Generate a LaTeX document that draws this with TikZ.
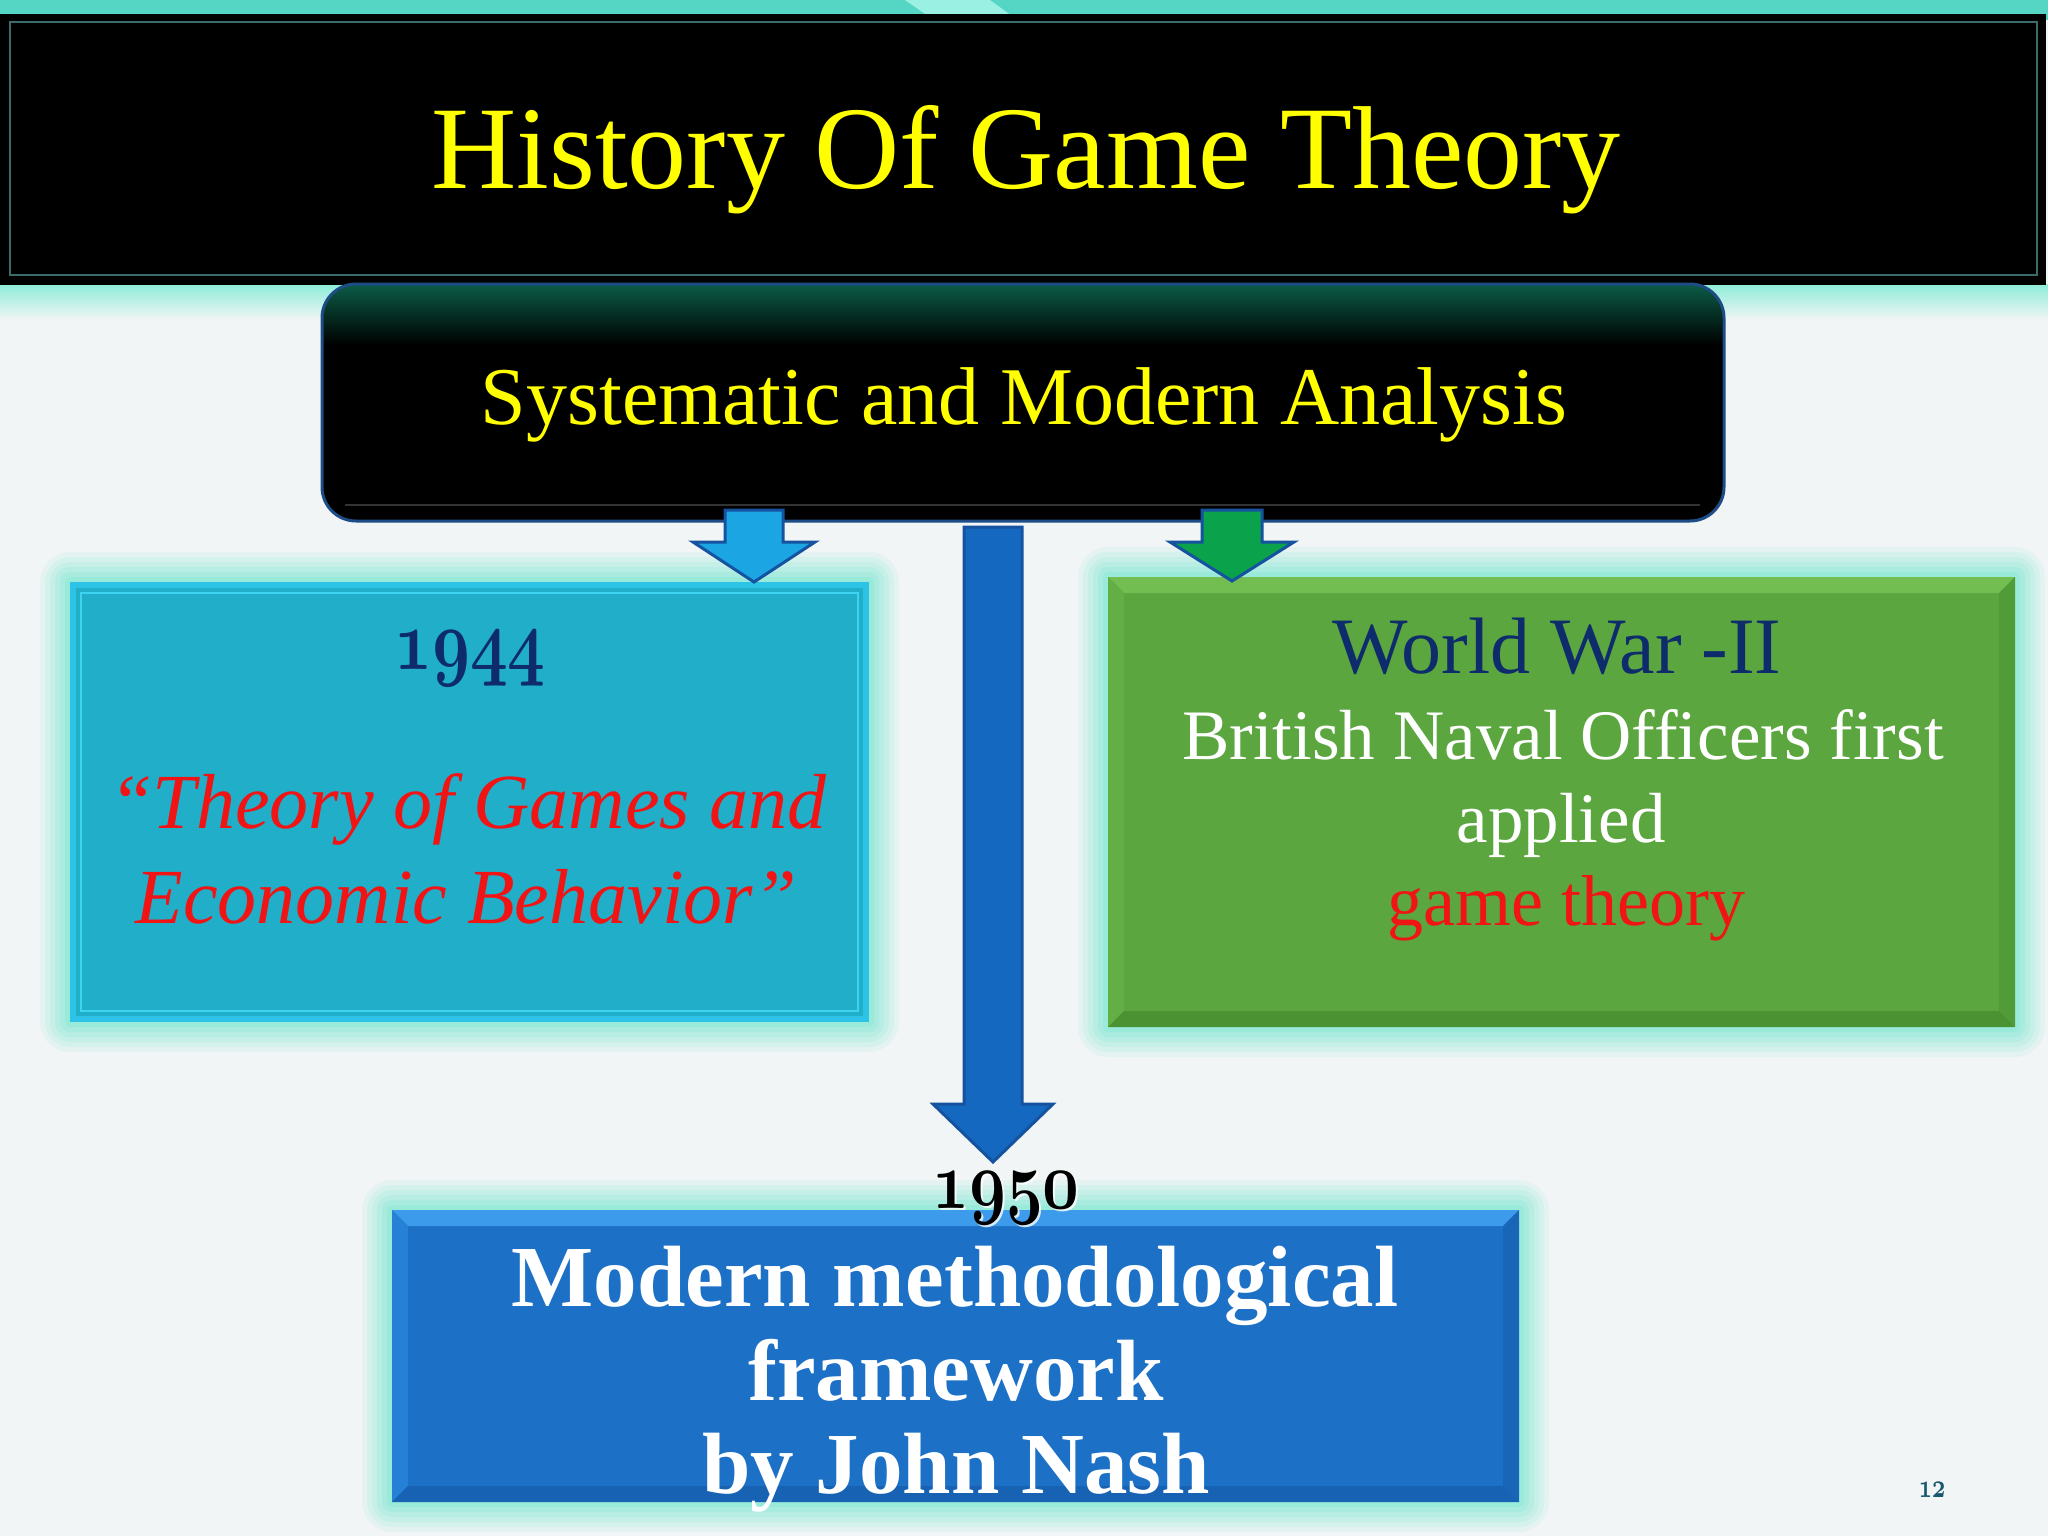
\documentclass[tikz,border=0pt]{standalone}
\usepackage{fontspec}
\setmainfont{Liberation Serif}
\usetikzlibrary{calc}
\definecolor{bgc}{HTML}{F2F5F5}
\definecolor{stripc}{HTML}{55D5C3}
\definecolor{stripl}{HTML}{9AF0E2}
\definecolor{glowc}{HTML}{6FE8CF}
\definecolor{titleframe}{HTML}{3C6C6A}
\definecolor{ttlyellow}{HTML}{FFFF00}
\definecolor{subgreen}{HTML}{0B5C47}
\definecolor{subborder}{HTML}{1D4C86}
\definecolor{cyanbox}{HTML}{21AEC9}
\definecolor{cyanedge}{HTML}{2CC3E6}
\definecolor{cyaninner}{HTML}{3FD3F2}
\definecolor{greenbox}{HTML}{5BA63F}
\definecolor{greentop}{HTML}{72BE51}
\definecolor{greenleft}{HTML}{63AF46}
\definecolor{greenright}{HTML}{519C38}
\definecolor{greenbot}{HTML}{4B9233}
\definecolor{bluebox}{HTML}{1C70C5}
\definecolor{bluetop}{HTML}{3C9CEB}
\definecolor{blueleft}{HTML}{2680D6}
\definecolor{blueright}{HTML}{1965B7}
\definecolor{bluebot}{HTML}{1862B3}
\definecolor{navy}{HTML}{0E2C6C}
\definecolor{redtxt}{HTML}{F01414}
\definecolor{arrowbig}{HTML}{1468C0}
\definecolor{arrowsmall}{HTML}{1BA5E3}
\definecolor{arrowgreen}{HTML}{0AA24A}
\definecolor{arrowedge}{HTML}{1553A0}
\definecolor{pagenum}{HTML}{16586C}

\newcommand\setfs[1]{\fontsize{#1}{#1}\selectfont}
% old-style numerals: xscale yscale text (bold math italic at 10pt, then scaled)
\newcommand\osnum[3]{{\fontsize{10}{10}\usefont{OML}{cmm}{b}{it}\scalebox{#1}[#2]{#3}}}

% soft glow around a box: x1 y1 x2 y2
\newcommand\glowbox[4]{%
  \foreach \g/\o in {30/0.10, 25/0.12, 20/0.14, 15/0.16, 10/0.2, 5/0.25}{%
    \fill[glowc, opacity=\o, rounded corners=\g pt] ({#1-\g},{#2-\g}) rectangle ({#3+\g},{#4+\g});
  }%
}
% bevel: x1 y1 x2 y2 d top left right bottom
\newcommand\bevelbox[9]{%
  \fill[#6] (#1,#2) -- (#3,#2) -- ({#3-#5},{#2+#5}) -- ({#1+#5},{#2+#5}) -- cycle;
  \fill[#7] (#1,#2) -- ({#1+#5},{#2+#5}) -- ({#1+#5},{#4-#5}) -- (#1,#4) -- cycle;
  \fill[#8] (#3,#2) -- (#3,#4) -- ({#3-#5},{#4-#5}) -- ({#3-#5},{#2+#5}) -- cycle;
  \fill[#9] (#1,#4) -- (#3,#4) -- ({#3-#5},{#4-#5}) -- ({#1+#5},{#4-#5}) -- cycle;
}
% block arrow: cx ytop ytip shafthalf headhalf headlen fill draw
\newcommand\blockarrow[8]{%
  \filldraw[fill=#7, draw=#8, line width=3pt, line join=miter]
  ({#1-#4},#2) -- ({#1+#4},#2) -- ({#1+#4},{#3-#6}) -- ({#1+#5},{#3-#6})
  -- (#1,#3) -- ({#1-#5},{#3-#6}) -- ({#1-#4},{#3-#6}) -- cycle;
}

\tikzset{
  txt/.style={anchor=base, inner sep=0pt, outer sep=0pt},
  holder/.style={inner sep=0pt, outer sep=0pt, draw=none}
}

\begin{document}
\begin{tikzpicture}[x=1pt,y=-1pt]
\useasboundingbox (0,0) rectangle (2048,1536);
% background
\fill[bgc] (0,0) rectangle (2048,1536);
\fill[stripc] (0,0) rectangle (2048,20);
\fill[stripl] (905,0) -- (990,0) -- (1012,16) -- (928,16) -- cycle;
\shade[top color=glowc!80, bottom color=bgc] (0,284) rectangle (2048,320);

% title box
\node[holder, fill=black, minimum width=2046pt, minimum height=271pt, anchor=north west] (title) at (0,14) {};
\draw[titleframe, line width=2pt] (10,22) rectangle (2037,275);
\node[txt, ttlyellow, font=\setfs{118}] (titletext) at (1026,188) {History Of Game Theory};

% subtitle box
\begin{scope}
  \clip[rounded corners=34pt] (322,284) rectangle (1724,521);
  \fill[black] (322,284) rectangle (1724,521);
  \shade[top color=subgreen, bottom color=black] (322,284) rectangle (1724,345);
  \draw[black!80!white, line width=2pt] (345,505) -- (1700,505);
\end{scope}
\draw[subborder, line width=3pt, rounded corners=34pt] (322,284) rectangle (1724,521);
\node[holder, minimum width=1402pt, minimum height=237pt] (sub) at (1023,402.5) {};
\node[txt, ttlyellow, font=\setfs{82}] (subtext) at (1024,424) {Systematic and Modern Analysis};

% glows
\glowbox{70}{582}{869}{1022}
\glowbox{1108}{577}{2015}{1027}
\glowbox{392}{1210}{1519}{1502}

% left box (1944)
\fill[cyanbox] (70,582) rectangle (869,1022);
\draw[cyanedge, line width=6pt] (73,585) rectangle (866,1019);
\draw[cyaninner, line width=2pt] (81,593) rectangle (858,1011);
\node[holder, minimum width=799pt, minimum height=440pt] (left) at (469.5,802) {};

% right box (World War II)
\fill[greenbox] (1108,577) rectangle (2015,1027);
\bevelbox{1108}{577}{2015}{1027}{16}{greentop}{greenleft}{greenright}{greenbot}
\node[holder, minimum width=907pt, minimum height=450pt] (right) at (1561.5,802) {};

% bottom box (1950)
\fill[bluebox] (392,1210) rectangle (1519,1502);
\bevelbox{392}{1210}{1519}{1502}{16}{bluetop}{blueleft}{blueright}{bluebot}
\node[holder, minimum width=1127pt, minimum height=292pt] (bottom) at (955.5,1356) {};

% arrows
\blockarrow{754}{510}{582}{29}{61}{40}{arrowsmall}{arrowedge}
\blockarrow{1232}{510}{581}{30}{62}{39}{arrowgreen}{arrowedge}
\blockarrow{993}{527}{1162}{29}{60}{58}{arrowbig}{arrowedge}

% left texts
\node[txt, navy] (y1944) at (470,669) {\osnum{6.6}{8.6}{1944}};
\node[txt, redtxt, font=\setfs{78}\itshape] (tg1) at (468,828) {“Theory of Games and};
\node[txt, redtxt, font=\setfs{78}\itshape] (tg2) at (466,923) {Economic Behavior”};

% right texts
\node[txt, navy, font=\setfs{80}] (ww) at (1557,673) {World War -II};
\node[txt, white, font=\setfs{71}] (bn1) at (1563,759) {British Naval Officers first};
\node[txt, white, font=\setfs{71}] (bn2) at (1561,842) {applied};
\node[txt, redtxt, font=\setfs{72}] (bn3) at (1566,925) {game theory};

% bottom texts
\node[txt, white, opacity=0.8] at (1008,1210) {\osnum{6.4}{8.2}{1950}};
\node[txt, black] (y1950) at (1006,1208) {\osnum{6.4}{8.2}{1950}};
\node[txt, white, font=\setfs{87}\bfseries] (mm1) at (955,1306) {Modern methodological};
\node[txt, white, font=\setfs{87}\bfseries] (mm2) at (956,1400) {framework};
\node[txt, white, font=\setfs{87}\bfseries] (mm3) at (956,1493) {by John Nash};

% page number
\node[txt, pagenum] (pg) at (1932,1497) {\osnum{2.3}{3.4}{12}};
\end{tikzpicture}
\end{document}
